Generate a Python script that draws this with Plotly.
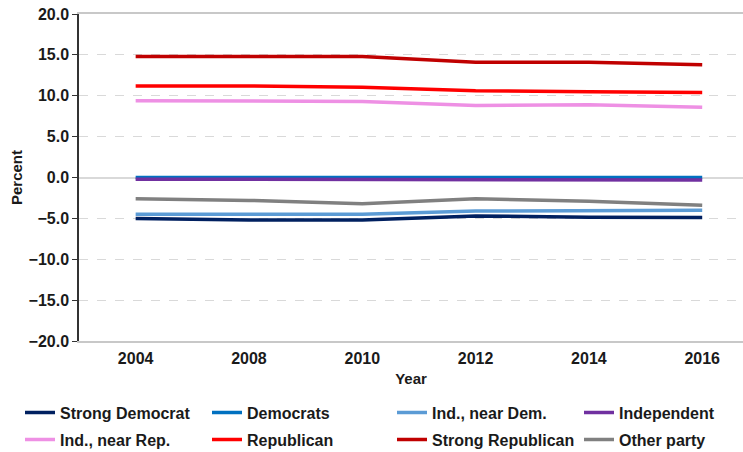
import plotly.graph_objects as go

years = ["2004", "2008", "2010", "2012", "2014", "2016"]

strong_democrat = [-5.0, -5.2, -5.2, -4.7, -4.85, -4.9]
democrats = [0.0, 0.0, 0.0, 0.0, 0.0, 0.0]
ind_near_dem = [-4.5, -4.5, -4.5, -4.1, -4.1, -4.0]
independent = [-0.2, -0.2, -0.2, -0.2, -0.2, -0.3]
ind_near_rep = [9.4, 9.4, 9.3, 8.8, 8.9, 8.6]
republican = [11.2, 11.2, 11.05, 10.6, 10.5, 10.4]
strong_republican = [14.8, 14.8, 14.8, 14.1, 14.1, 13.8]
other_party = [-2.6, -2.8, -3.2, -2.6, -2.9, -3.4]

series = [
    ("Strong Democrat", strong_democrat, "#002060"),
    ("Democrats", democrats, "#0070C0"),
    ("Ind., near Dem.", ind_near_dem, "#5B9BD5"),
    ("Independent", independent, "#7030A0"),
    ("Ind., near Rep.", ind_near_rep, "#EE90E4"),
    ("Republican", republican, "#FF0000"),
    ("Strong Republican", strong_republican, "#C00000"),
    ("Other party", other_party, "#808080"),
]

W, H = 743, 452
family = "Liberation Sans, Arial, sans-serif"
ink = "#1a1a1a"

# legend grid: 4 columns x 2 rows, each entry its own legend box (pixel anchors)
col_px = [20, 207, 392, 579]
row_y = [0.125, 0.065]

fig = go.Figure()
legends = {}
for i, (name, vals, color) in enumerate(series):
    key = "legend" if i == 0 else f"legend{i + 1}"
    fig.add_trace(go.Scatter(
        x=years, y=vals, name=name, mode="lines",
        line=dict(color=color, width=3.5), legend=key,
    ))
    legends[key] = dict(
        orientation="h", xref="container", yref="container",
        x=col_px[i % 4] / W, y=row_y[i // 4], xanchor="left", yanchor="top",
        font=dict(size=16, weight="bold", family=family, color=ink),
        itemwidth=30, bgcolor="rgba(0,0,0,0)",
    )

fig.update_layout(
    width=W, height=H,
    margin=dict(l=79, r=0, t=14, b=111),
    paper_bgcolor="white", plot_bgcolor="white",
    font=dict(family=family, color=ink, size=16, weight="bold"),
    showlegend=True,
    **legends,
    xaxis=dict(
        type="category", range=[-0.5, 5.36],
        showgrid=False, showline=True, linecolor="#C8C8C8", linewidth=1.5,
        mirror=True, ticks="", tickfont=dict(size=16), ticklabelstandoff=2,
        title=dict(text="Year", font=dict(size=15), standoff=8),
    ),
    yaxis=dict(
        range=[-20, 20], dtick=5, tickformat=".1f",
        showgrid=True, gridcolor="#D9D9D9", griddash="dash", gridwidth=1,
        zeroline=True, zerolinecolor="#D9D9D9", zerolinewidth=1.5,
        showline=True, linecolor="#333333", linewidth=1.5,
        ticks="outside", ticklen=5, tickcolor="#333333",
        tickfont=dict(size=16),
        title=dict(text="Percent", font=dict(size=15), standoff=2),
    ),
)

fig.write_html("out.html")
